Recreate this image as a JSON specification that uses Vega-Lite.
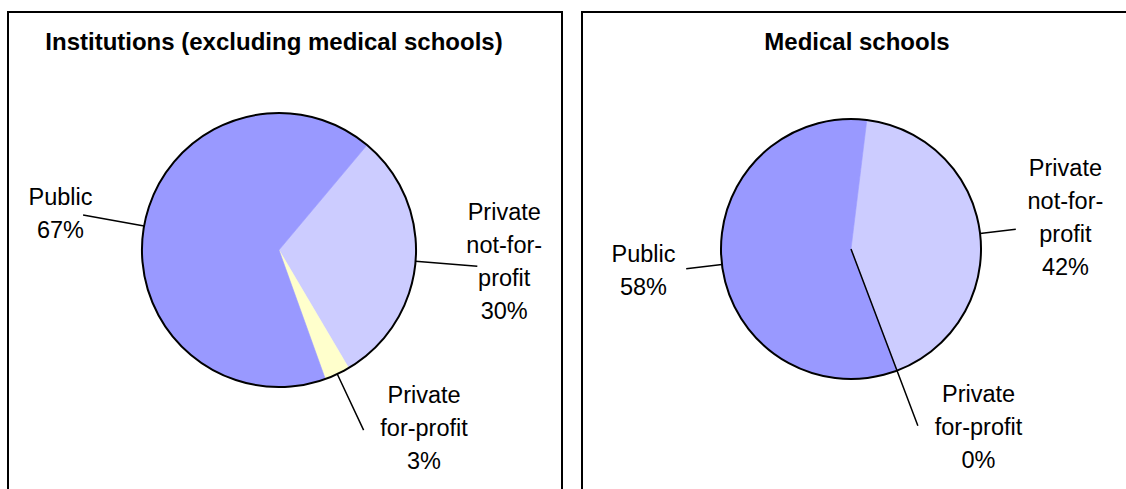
{
  "$schema": "https://vega.github.io/schema/vega-lite/v6.json",
  "padding": {"left": 7, "top": 11, "right": 0, "bottom": 0},
  "background": "white",
  "spacing": 18,
  "config": {
    "view": {"stroke": "black", "strokeWidth": 2},
    "font": "Liberation Sans",
    "title": {"font": "Liberation Sans", "fontSize": 24, "fontWeight": "bold", "color": "black", "anchor": "middle", "baseline": "alphabetic", "offset": -43, "frame": "group"},
    "text": {"font": "Liberation Sans", "fontSize": 23.5, "lineBreak": "\n", "lineHeight": 33, "align": "center", "baseline": "alphabetic", "color": "black"}
  },
  "datasets": {
    "inst": [
      {"sector": "Private\nnot-for-\nprofit", "share": 30.4},
      {"sector": "Private\nfor-profit", "share": 3.0},
      {"sector": "Public", "share": 66.6}
    ],
    "med": [
      {"sector": "Private\nnot-for-\nprofit", "share": 42.3},
      {"sector": "Private\nfor-profit", "share": 0},
      {"sector": "Public", "share": 57.7}
    ]
  },
  "hconcat": [
    {
      "width": 554,
      "height": 478,
      "view": {"stroke": "black", "strokeWidth": 2, "fill": "white"},
      "title": {"text": "Institutions (excluding medical schools)", "dx": -11},
      "data": {"name": "inst"},
      "transform": [
        {"window": [{"op": "sum", "field": "share", "as": "cum1"}], "frame": [null, 0]},
        {"calculate": "datum.cum1 - datum.share", "as": "cum0"},
        {"calculate": "datum.cum1 - datum.share / 2", "as": "mid"},
        {"calculate": "datum.sector + '\\n' + format(datum.share, '.0f') + '%'", "as": "label"}
      ],
      "layer": [
        {
          "transform": [{"filter": "datum.share > 0"}],
          "mark": {"type": "arc", "radius": 137, "strokeWidth": 0.6, "xOffset": -6, "yOffset": -1},
          "encoding": {
            "theta": {"field": "cum0", "type": "quantitative", "stack": null, "scale": {"domain": [0, 100], "range": [0.6981, 6.9813]}},
            "theta2": {"field": "cum1"},
            "color": {"field": "sector", "type": "nominal", "legend": null, "scale": {"domain": ["Public", "Private\nnot-for-\nprofit", "Private\nfor-profit"], "range": ["#9999FF", "#CCCCFF", "#FFFFCC"]}},
            "stroke": {"field": "sector", "type": "nominal", "legend": null, "scale": {"domain": ["Public", "Private\nnot-for-\nprofit", "Private\nfor-profit"], "range": ["#9999FF", "#CCCCFF", "#FFFFCC"]}}
          }
        },
        {
          "transform": [{"aggregate": [{"op": "min", "field": "cum0", "as": "a0"}, {"op": "max", "field": "cum1", "as": "a1"}]}],
          "mark": {"type": "arc", "radius": 137, "fill": null, "stroke": "black", "strokeWidth": 2, "xOffset": -6, "yOffset": -1},
          "encoding": {
            "theta": {"field": "a0", "type": "quantitative", "stack": null, "scale": {"domain": [0, 100], "range": [0.6981, 6.9813]}},
            "theta2": {"field": "a1"}
          }
        },
        {
          "mark": {"type": "arc", "fill": null, "stroke": "black", "strokeWidth": 1.5, "radius2": 137, "xOffset": -6, "yOffset": -1},
          "encoding": {
            "theta": {"field": "mid", "type": "quantitative", "stack": null, "scale": {"domain": [0, 100], "range": [0.6981, 6.9813]}},
            "theta2": {"field": "mid"},
            "radius": {"condition": [{"test": "datum.sector == 'Public'", "value": 177}, {"test": "indexof(datum.sector, 'not-for') >= 0", "value": 183}], "value": 199}
          }
        },
        {
          "transform": [{"filter": "datum.sector == 'Public'"}],
          "mark": {"type": "text", "dx": 0, "dy": -6, "xOffset": -6, "yOffset": -1},
          "encoding": {
            "theta": {"field": "mid", "type": "quantitative", "stack": null, "scale": {"domain": [0, 100], "range": [0.6981, 6.9813]}},
            "radius": {"value": 222},
            "text": {"field": "label"}
          }
        },
        {
          "transform": [{"filter": "indexof(datum.sector, 'not-for') >= 0"}],
          "mark": {"type": "text", "dx": 4, "dy": -48, "xOffset": -6, "yOffset": -1},
          "encoding": {
            "theta": {"field": "mid", "type": "quantitative", "stack": null, "scale": {"domain": [0, 100], "range": [0.6981, 6.9813]}},
            "radius": {"value": 222},
            "text": {"field": "label"}
          }
        },
        {
          "transform": [{"filter": "datum.sector != 'Public' && indexof(datum.sector, 'not-for') < 0"}],
          "mark": {"type": "text", "dx": 60, "dy": -28, "xOffset": -6, "yOffset": -1},
          "encoding": {
            "theta": {"field": "mid", "type": "quantitative", "stack": null, "scale": {"domain": [0, 100], "range": [0.6981, 6.9813]}},
            "radius": {"value": 200},
            "text": {"field": "label"}
          }
        }
      ]
    },
    {
      "width": 546,
      "height": 478,
      "view": {"stroke": "black", "strokeWidth": 2, "fill": "white"},
      "title": {"text": "Medical schools", "dx": 2},
      "data": {"name": "med"},
      "transform": [
        {"window": [{"op": "sum", "field": "share", "as": "cum1"}], "frame": [null, 0]},
        {"calculate": "datum.cum1 - datum.share", "as": "cum0"},
        {"calculate": "datum.cum1 - datum.share / 2", "as": "mid"},
        {"calculate": "datum.sector + '\\n' + format(datum.share, '.0f') + '%'", "as": "label"}
      ],
      "layer": [
        {
          "transform": [{"filter": "datum.share > 0"}],
          "mark": {"type": "arc", "radius": 130, "strokeWidth": 0.6, "xOffset": -4, "yOffset": -2},
          "encoding": {
            "theta": {"field": "cum0", "type": "quantitative", "stack": null, "scale": {"domain": [0, 100], "range": [0.12217, 6.40536]}},
            "theta2": {"field": "cum1"},
            "color": {"field": "sector", "type": "nominal", "legend": null, "scale": {"domain": ["Public", "Private\nnot-for-\nprofit", "Private\nfor-profit"], "range": ["#9999FF", "#CCCCFF", "#FFFFCC"]}},
            "stroke": {"field": "sector", "type": "nominal", "legend": null, "scale": {"domain": ["Public", "Private\nnot-for-\nprofit", "Private\nfor-profit"], "range": ["#9999FF", "#CCCCFF", "#FFFFCC"]}}
          }
        },
        {
          "transform": [{"aggregate": [{"op": "min", "field": "cum0", "as": "a0"}, {"op": "max", "field": "cum1", "as": "a1"}]}],
          "mark": {"type": "arc", "radius": 130, "fill": null, "stroke": "black", "strokeWidth": 2, "xOffset": -4, "yOffset": -2},
          "encoding": {
            "theta": {"field": "a0", "type": "quantitative", "stack": null, "scale": {"domain": [0, 100], "range": [0.12217, 6.40536]}},
            "theta2": {"field": "a1"}
          }
        },
        {
          "transform": [{"filter": "datum.share > 0"}],
          "mark": {"type": "arc", "fill": null, "stroke": "black", "strokeWidth": 1.5, "radius2": 130, "xOffset": -4, "yOffset": -2},
          "encoding": {
            "theta": {"field": "mid", "type": "quantitative", "stack": null, "scale": {"domain": [0, 100], "range": [0.12217, 6.40536]}},
            "theta2": {"field": "mid"},
            "radius": {"condition": {"test": "datum.sector == 'Public'", "value": 164}, "value": 166}
          }
        },
        {
          "transform": [{"filter": "datum.share == 0"}],
          "mark": {"type": "arc", "fill": null, "stroke": "black", "strokeWidth": 1.5, "radius2": 0, "radius": 189, "xOffset": -4, "yOffset": -2},
          "encoding": {
            "theta": {"field": "mid", "type": "quantitative", "stack": null, "scale": {"domain": [0, 100], "range": [0.12217, 6.40536]}},
            "theta2": {"field": "mid"}
          }
        },
        {
          "transform": [{"filter": "datum.sector == 'Public'"}],
          "mark": {"type": "text", "dx": -1, "dy": -12, "xOffset": -4, "yOffset": -2},
          "encoding": {
            "theta": {"field": "mid", "type": "quantitative", "stack": null, "scale": {"domain": [0, 100], "range": [0.12217, 6.40536]}},
            "radius": {"value": 208},
            "text": {"field": "label"}
          }
        },
        {
          "transform": [{"filter": "indexof(datum.sector, 'not-for') >= 0"}],
          "mark": {"type": "text", "dx": -5, "dy": -47, "xOffset": -4, "yOffset": -2},
          "encoding": {
            "theta": {"field": "mid", "type": "quantitative", "stack": null, "scale": {"domain": [0, 100], "range": [0.12217, 6.40536]}},
            "radius": {"value": 221},
            "text": {"field": "label"}
          }
        },
        {
          "transform": [{"filter": "datum.sector != 'Public' && indexof(datum.sector, 'not-for') < 0"}],
          "mark": {"type": "text", "dx": 61, "dy": -23, "xOffset": -4, "yOffset": -2},
          "encoding": {
            "theta": {"field": "mid", "type": "quantitative", "stack": null, "scale": {"domain": [0, 100], "range": [0.12217, 6.40536]}},
            "radius": {"value": 188},
            "text": {"field": "label"}
          }
        }
      ]
    }
  ]
}
